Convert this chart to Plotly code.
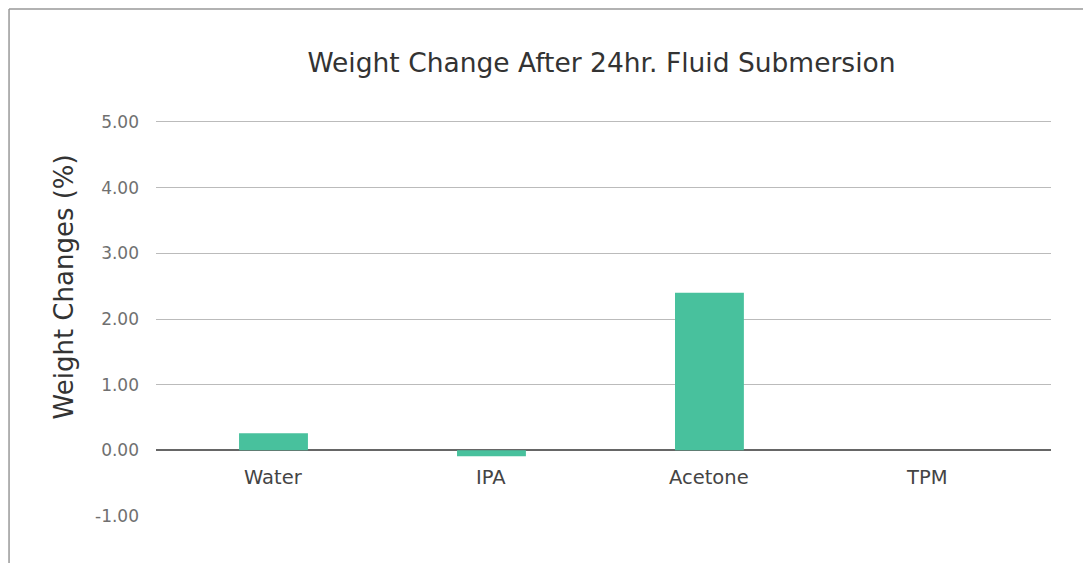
import plotly.graph_objects as go

categories = ["Water", "IPA", "Acetone", "TPM"]
weight_change = [0.26, -0.09, 2.40, 0.0]
y_ticks = [-1, 0, 1, 2, 3, 4, 5]
y_tick_labels = ["-1.00", "0.00", "1.00", "2.00", "3.00", "4.00", "5.00"]
y_title = "Weight Changes (%)"
chart_title = "Weight Change After 24hr. Fluid Submersion"

FONT = "DejaVu Sans"

fig = go.Figure()
fig.add_trace(go.Bar(
    x=categories, y=weight_change,
    marker=dict(color="#48C19D", line=dict(width=0)),
    width=0.316,
))

for c in categories:
    fig.add_annotation(
        x=c, y=0, xref="x", yref="y", text=c, showarrow=False,
        yshift=-27, font=dict(family=FONT, size=19.5, color="#444444"),
    )

fig.add_annotation(
    x=-0.1017, y=0.5752, xref="paper", yref="paper", text=y_title,
    textangle=-90, showarrow=False, xanchor="center", yanchor="middle",
    font=dict(family=FONT, size=26, color="#333333"),
)

fig.update_layout(
    width=1083, height=555,
    margin=dict(l=148, r=40, t=109, b=47),
    paper_bgcolor="white", plot_bgcolor="white",
    showlegend=False,
    title=dict(
        text=chart_title,
        x=0.548, xanchor="center", y=0.9009, yanchor="middle",
        font=dict(family=FONT, size=26.5, color="#333333"),
    ),
    xaxis=dict(
        type="category", range=[-0.539, 3.567],
        showticklabels=False, showgrid=False, zeroline=False, showline=False,
        ticks="",
    ),
    yaxis=dict(
        range=[-1, 5.076], tickvals=y_ticks, ticktext=y_tick_labels,
        showgrid=True, gridcolor="#BBBBBB", gridwidth=1,
        zeroline=True, zerolinecolor="#666666", zerolinewidth=2,
        showline=False, ticks="",
        tickfont=dict(family=FONT, size=17, color="#707070"),
        ticklabelstandoff=16,
    ),
    shapes=[
        dict(type="line", xref="paper", yref="paper",
             x0=-0.1642, x1=-0.1642, y0=-0.2, y1=1.2707,
             line=dict(color="#999999", width=1.5)),
        dict(type="line", xref="paper", yref="paper",
             x0=-0.1642, x1=1.1, y0=1.2707, y1=1.2707,
             line=dict(color="#999999", width=1.5)),
    ],
)

fig.write_html("out.html")
